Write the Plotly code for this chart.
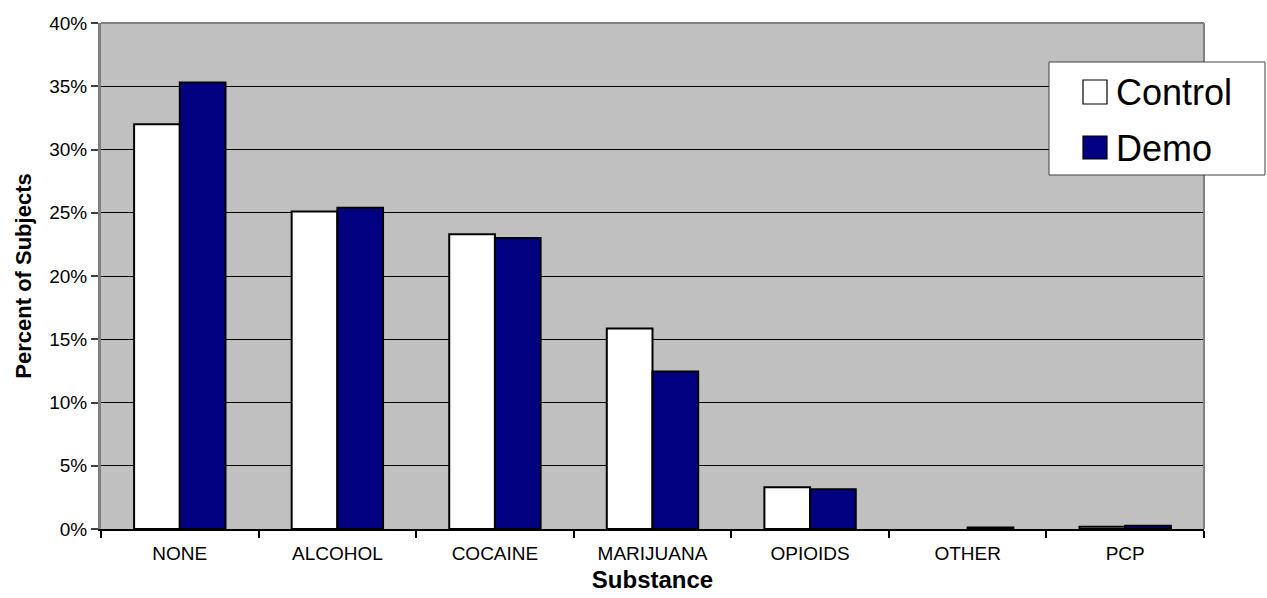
import plotly.graph_objects as go

categories = ["NONE", "ALCOHOL", "COCAINE", "MARIJUANA", "OPIOIDS", "OTHER", "PCP"]
control = [32.0, 25.1, 23.3, 15.85, 3.3, 0.0, 0.18]
demo = [35.3, 25.4, 23.0, 12.45, 3.15, 0.12, 0.25]
y_ticks = [0, 5, 10, 15, 20, 25, 30, 35, 40]
series_names = ["Control", "Demo"]

FONT = "Arial, Liberation Sans, sans-serif"
W, H = 1267, 598
L, R, T, B = 101, 63, 23, 69
PW, PH = W - L - R, H - T - B


def px(x):
    return (x - L) / PW


def py(y):
    return (H - B - y) / PH


def outline_widths(vals):
    return [0 if v == 0 else 2 for v in vals]


fig = go.Figure()
fig.add_trace(go.Bar(x=categories, y=control, name=series_names[0],
                     marker=dict(color="white", line=dict(color="black", width=outline_widths(control))),
                     showlegend=False))
fig.add_trace(go.Bar(x=categories, y=demo, name=series_names[1],
                     marker=dict(color="#000080", line=dict(color="black", width=outline_widths(demo))),
                     showlegend=False))

shapes = [
    dict(type="line", xref="paper", yref="paper", x0=0, x1=1, y0=1, y1=1,
         line=dict(color="#808080", width=2)),
    dict(type="line", xref="paper", yref="paper", x0=1, x1=1, y0=0, y1=1,
         line=dict(color="#808080", width=2)),
    dict(type="rect", xref="paper", yref="paper", x0=px(1049), x1=px(1265),
         y0=py(175), y1=py(62), fillcolor="white", line=dict(color="#404040", width=1),
         layer="above"),
    dict(type="rect", xref="paper", yref="paper", x0=px(1083), x1=px(1107),
         y0=py(104), y1=py(80), fillcolor="white", line=dict(color="black", width=1.2),
         layer="above"),
    dict(type="rect", xref="paper", yref="paper", x0=px(1083), x1=px(1107),
         y0=py(159), y1=py(136), fillcolor="#000080", line=dict(color="black", width=1.2),
         layer="above"),
]
annotations = [
    dict(text=series_names[0], xref="paper", yref="paper", x=px(1114), y=py(92),
         xanchor="left", yanchor="middle", showarrow=False,
         font=dict(family=FONT, size=36, color="black")),
    dict(text=series_names[1], xref="paper", yref="paper", x=px(1114), y=py(148),
         xanchor="left", yanchor="middle", showarrow=False,
         font=dict(family=FONT, size=36, color="black")),
]

fig.update_layout(
    width=W, height=H,
    margin=dict(l=L, r=R, t=T, b=B, pad=0),
    paper_bgcolor="white",
    plot_bgcolor="#C0C0C0",
    barmode="group",
    bargap=0.42,
    bargroupgap=0,
    font=dict(family=FONT, color="black"),
    shapes=shapes,
    annotations=annotations,
    xaxis=dict(
        type="category",
        automargin=False,
        tickson="boundaries",
        ticks="outside", ticklen=7, tickcolor="black", tickwidth=1.5,
        showline=True, linecolor="black", linewidth=2,
        showgrid=False,
        ticklabelstandoff=6,
        tickfont=dict(size=19, family=FONT, color="black"),
        title=dict(text="<b>Substance</b>", font=dict(size=24, family=FONT, color="black"),
                   standoff=8),
    ),
    yaxis=dict(
        range=[0, 40],
        automargin=False,
        tickvals=y_ticks,
        ticktext=[f"{v}%" for v in y_ticks],
        ticks="outside", ticklen=7, tickcolor="#404040", tickwidth=1.5,
        showline=True, linecolor="#808080", linewidth=3,
        showgrid=True, gridcolor="black", gridwidth=1,
        zeroline=False,
        tickfont=dict(size=19, family=FONT, color="black"),
        title=dict(text="<b>Percent of Subjects</b>", font=dict(size=22, family=FONT, color="black"),
                   standoff=12),
    ),
)

fig.write_html("out.html")
